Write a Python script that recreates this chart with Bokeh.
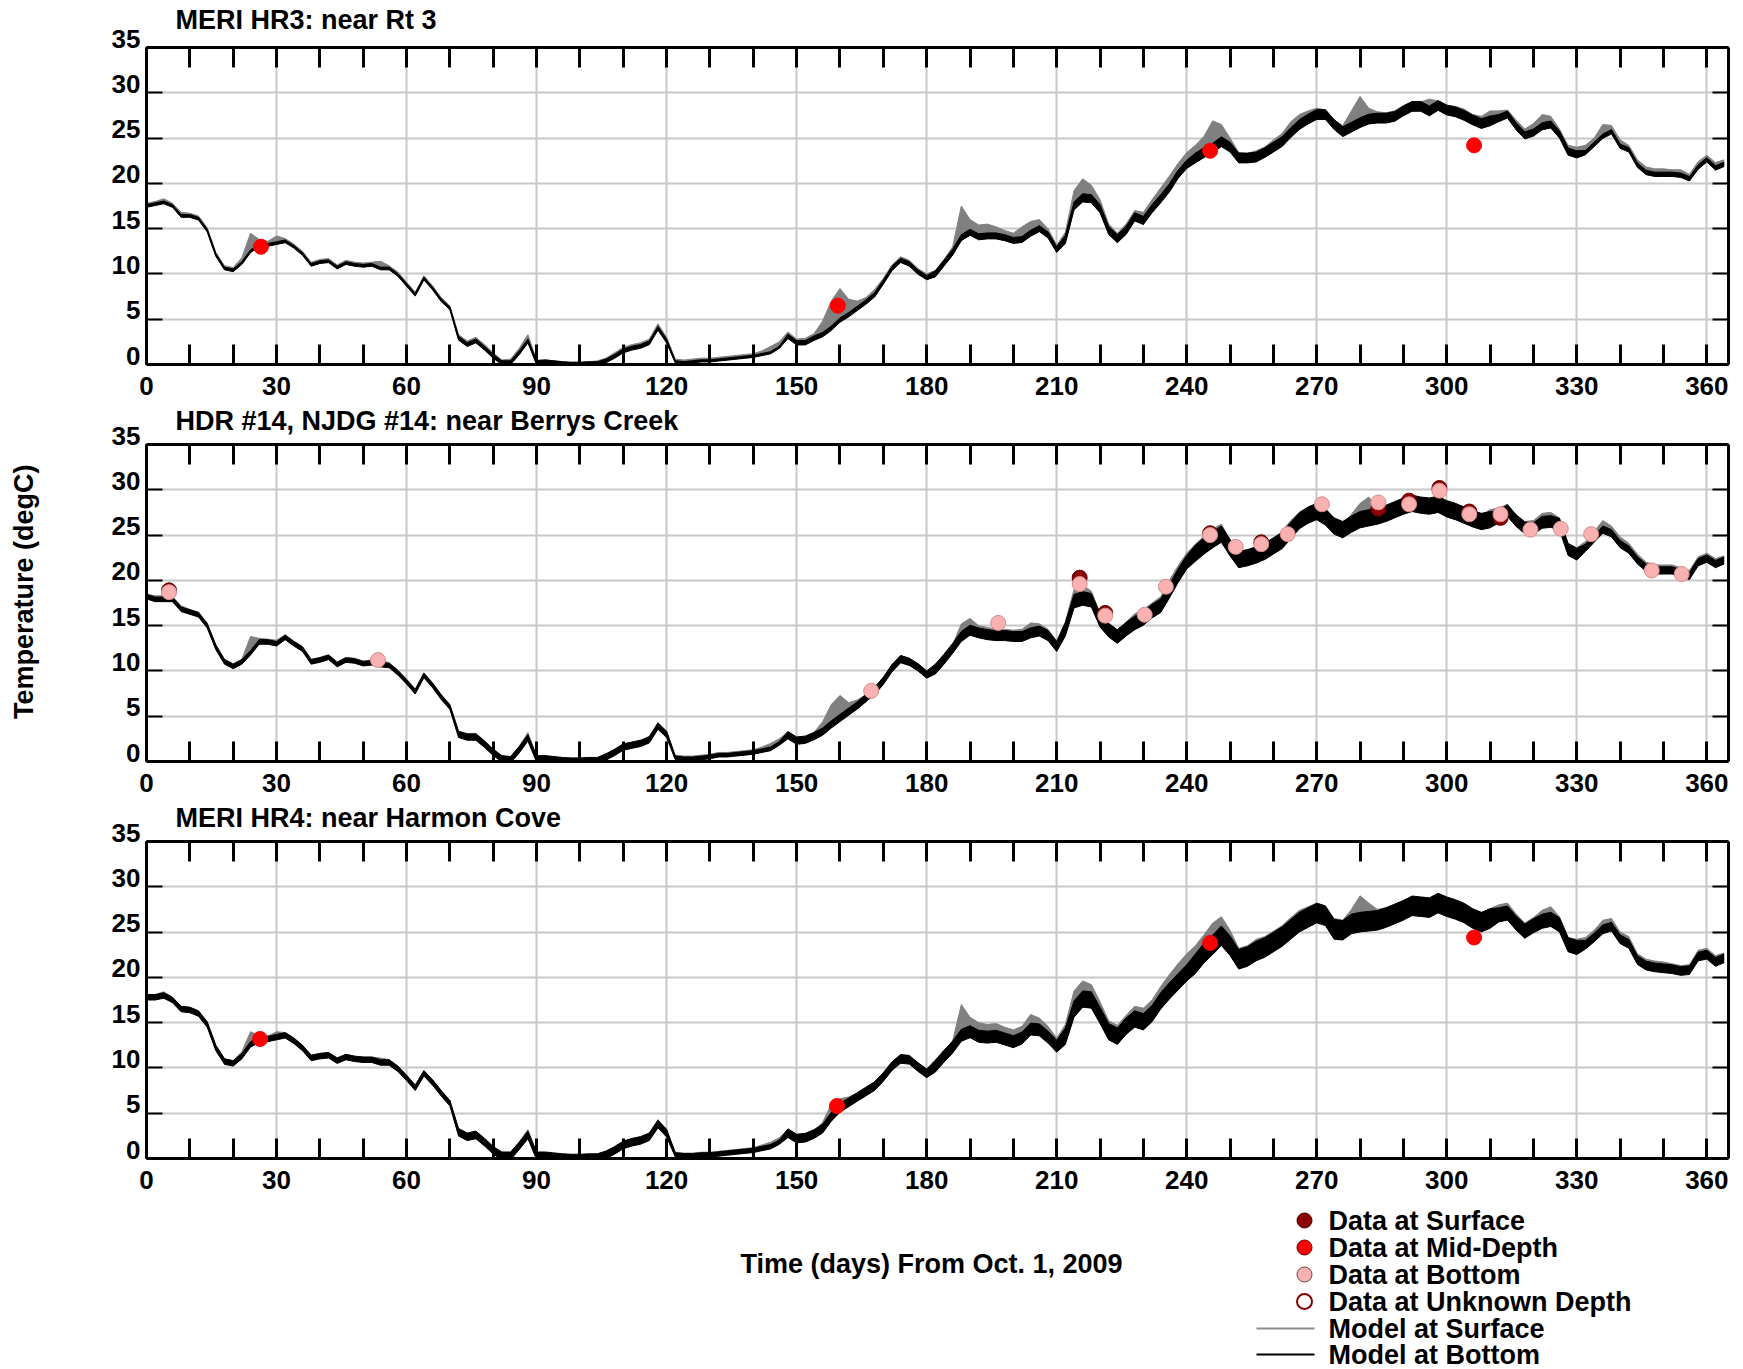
import numpy as np
from bokeh.plotting import figure
from bokeh.models import Range1d, FixedTicker, LinearAxis, ColumnDataSource
from bokeh.core.properties import value
from bokeh.layouts import column
from bokeh.embed import file_html
from bokeh.resources import INLINE

# ---------------- data ----------------
TITLES = ["MERI HR3: near Rt 3", "HDR #14, NJDG #14: near Berrys Creek",
          "MERI HR4: near Harmon Cove"]
X_TITLE = "Time (days) From Oct. 1, 2009"
Y_TITLE = "Temperature (degC)"
X_TICKS = list(range(0, 361, 10))
X_LABELED = list(range(0, 361, 30))
Y_TICKS = list(range(0, 36, 5))

# model output sampled every 2 days
DAYS = list(range(0, 365, 2))

bot_p1 = [17.5, 17.7, 17.9, 17.5, 16.4, 16.4, 16.1, 14.8, 12.1, 10.6,
          10.4, 11.2, 12.5, 13.2, 13.2, 13.4, 13.6, 13.0, 12.2, 11.0,
          11.3, 11.4, 10.7, 11.2, 11.0, 10.9, 11.0, 10.6, 10.6, 9.9,
          8.8, 7.7, 9.5, 8.4, 7.1, 6.2, 2.9, 2.2, 2.6, 1.8,
          0.9, 0.2, 0.2, 1.3, 2.6, 0.2, 0.3, 0.2, 0.1, 0.05,
          0.05, 0.1, 0.1, 0.4, 0.9, 1.5, 1.8, 2.0, 2.4, 4.0,
          2.6, 0.3, 0.2, 0.3, 0.4, 0.4, 0.5, 0.6, 0.7, 0.8,
          0.9, 1.1, 1.3, 1.9, 3.1, 2.4, 2.4, 2.9, 3.3, 4.0,
          4.9, 5.5, 6.2, 6.9, 7.7, 9.1, 10.6, 11.5, 11.1, 10.2,
          9.6, 10.0, 11.2, 12.4, 14.0, 14.6, 14.1, 14.2, 14.2, 14.0,
          13.7, 13.8, 14.5, 15.0, 14.3, 12.7, 13.8, 17.5, 18.4, 18.3,
          17.2, 14.8, 13.9, 14.8, 16.3, 15.9, 17.2, 18.3, 19.5, 21.0,
          22.1, 22.8, 23.4, 23.9, 24.6, 24.0, 22.8, 22.8, 22.9, 23.4,
          24.0, 24.6, 25.6, 26.5, 27.1, 27.6, 27.6, 26.5, 25.7, 26.2,
          26.7, 27.1, 27.2, 27.2, 27.4, 28.0, 28.5, 28.5, 28.0, 28.6,
          28.1, 27.9, 27.5, 27.0, 26.6, 26.9, 27.2, 27.6, 26.3, 25.3,
          25.6, 26.3, 26.5, 25.4, 23.5, 23.2, 23.4, 24.3, 25.2, 25.7,
          24.1, 23.7, 22.0, 21.2, 21.0, 21.0, 21.0, 20.9, 20.5, 21.8,
          22.6, 21.7, 22.1]
surf_p1 = [17.8, 18.0, 18.3, 17.8, 16.8, 16.7, 16.4, 15.1, 12.4, 10.9,
           10.7, 11.8, 14.5, 13.8, 13.6, 14.2, 13.9, 13.3, 12.5, 11.3,
           11.6, 11.7, 11.0, 11.5, 11.3, 11.2, 11.3, 11.4, 10.9, 10.2,
           9.1, 8.0, 9.8, 8.7, 7.4, 6.5, 3.3, 2.6, 3.0, 2.2,
           1.3, 0.5, 0.6, 1.8, 3.3, 0.5, 0.5, 0.4, 0.3, 0.2,
           0.2, 0.3, 0.4, 0.7, 1.3, 1.9, 2.2, 2.4, 2.8, 4.5,
           3.0, 0.6, 0.5, 0.6, 0.7, 0.7, 0.8, 0.9, 1.0, 1.1,
           1.2, 1.5, 2.0, 2.5, 3.6, 2.8, 2.9, 3.4, 4.8, 7.0,
           8.4, 7.2, 7.0, 7.4, 8.3, 9.5, 11.0, 11.9, 11.5, 10.6,
           10.0, 10.4, 11.6, 13.0, 17.5, 16.0, 15.4, 15.5, 15.2, 14.8,
           14.5, 15.2, 15.8, 16.0, 15.0, 13.2, 14.6, 19.2, 20.5, 19.8,
           18.2, 15.5, 14.5, 15.5, 17.0, 16.8, 18.2, 19.5, 20.8, 22.2,
           23.4, 24.2, 25.2, 26.9, 26.5, 25.0, 23.4, 23.3, 23.6, 24.0,
           24.8, 25.5, 26.8, 27.6, 28.0, 28.3, 28.1, 27.0, 26.4, 28.0,
           29.6, 28.3, 27.9, 27.8, 28.0, 28.6, 29.0, 29.0, 29.3, 29.1,
           28.6, 28.5, 28.2, 27.6, 27.4, 28.0, 28.0, 28.1, 27.0, 26.0,
           26.6, 27.6, 27.4, 26.0, 24.2, 24.0, 24.2, 25.0, 26.5, 26.4,
           24.8, 24.2, 22.6, 21.8, 21.6, 21.6, 21.5, 21.5, 21.0, 22.4,
           23.1, 22.3, 22.6]

bot_p2 = [18.2, 17.9, 17.9, 17.9, 16.8, 16.5, 16.2, 15.0, 12.6, 11.0,
          10.5, 11.0, 12.0, 13.2, 13.2, 13.0, 13.7, 13.0, 12.4, 11.0,
          11.2, 11.5, 10.7, 11.2, 11.1, 10.8, 10.9, 10.7, 10.6, 9.8,
          8.8, 7.7, 9.5, 8.4, 7.1, 6.0, 3.0, 2.7, 2.7, 1.9,
          1.0, 0.3, 0.2, 1.3, 2.6, 0.3, 0.3, 0.2, 0.1, 0.05,
          0.05, 0.1, 0.1, 0.5, 1.0, 1.6, 1.8, 2.0, 2.4, 3.9,
          3.0, 0.4, 0.3, 0.3, 0.4, 0.5, 0.7, 0.7, 0.8, 0.9,
          1.0, 1.2, 1.4, 2.0, 2.9, 2.3, 2.4, 2.8, 3.3, 4.1,
          4.8, 5.5, 6.2, 7.0, 7.8, 8.9, 10.3, 11.3, 11.0, 10.4,
          9.6, 10.2, 11.3, 12.5, 13.8, 14.5, 14.2, 14.0, 13.9, 13.9,
          13.8, 13.8, 14.2, 14.4, 13.9, 12.7, 14.6, 17.7, 18.0, 17.8,
          15.6, 14.5, 13.8, 14.6, 15.3, 15.8, 16.6, 17.2, 18.8, 20.5,
          22.0, 23.0, 23.8, 24.5, 25.1, 23.6, 22.3, 22.5, 22.8, 23.2,
          23.8, 24.4, 25.5, 26.6, 27.2, 27.6, 27.0, 26.0, 25.6, 26.2,
          26.7, 26.9, 27.1, 27.4, 27.8, 28.2, 28.5, 28.3, 28.2, 28.4,
          27.9, 27.6, 27.2, 26.8, 26.5, 26.7, 27.0, 27.7, 26.6, 25.8,
          25.7, 26.4, 26.5, 26.2, 23.4, 22.9, 23.6, 24.6, 25.6, 25.2,
          24.0, 23.4, 22.2, 21.4, 21.1, 21.1, 21.1, 20.8, 20.5, 22.0,
          22.4, 21.8, 22.2]
surf_p2 = [18.5, 18.3, 18.3, 18.2, 17.2, 16.8, 16.5, 15.3, 12.9, 11.3,
           10.8, 11.3, 13.8, 13.6, 13.5, 13.4, 14.0, 13.3, 12.7, 11.3,
           11.5, 11.8, 11.0, 11.5, 11.4, 11.1, 11.2, 11.2, 10.9, 10.1,
           9.1, 8.0, 9.8, 8.7, 7.4, 6.3, 3.3, 3.1, 3.1, 2.3,
           1.3, 0.6, 0.5, 1.7, 3.2, 0.6, 0.6, 0.5, 0.3, 0.2,
           0.2, 0.3, 0.4, 0.8, 1.3, 1.9, 2.1, 2.3, 2.7, 4.3,
           3.3, 0.7, 0.6, 0.6, 0.7, 0.8, 1.0, 1.0, 1.1, 1.2,
           1.3, 1.6, 2.0, 2.5, 3.3, 2.7, 2.8, 3.2, 4.4, 6.3,
           7.3, 6.5, 6.8, 7.4, 8.2, 9.3, 10.7, 11.7, 11.4, 10.8,
           10.0, 10.5, 11.7, 12.9, 15.2, 15.8, 15.0, 14.8, 14.6, 14.6,
           14.5, 14.6, 15.3, 15.2, 14.6, 13.3, 15.4, 19.0, 19.5, 18.8,
           16.4, 15.2, 14.5, 15.4, 16.3, 16.8, 17.5, 18.2, 20.0, 21.6,
           23.0, 24.0, 24.9, 25.7, 26.2, 24.5, 23.2, 23.3, 23.6, 24.0,
           24.6, 25.4, 26.6, 27.5, 27.9, 28.3, 27.8, 26.8, 26.2, 27.3,
           28.5, 29.2, 28.0, 28.1, 28.5, 28.9, 29.1, 28.9, 28.8, 29.3,
           28.5, 28.3, 27.9, 27.5, 27.2, 27.8, 28.0, 28.4, 27.2, 26.5,
           26.6, 27.4, 27.5, 26.9, 24.1, 23.6, 24.3, 25.4, 26.6, 26.0,
           24.8, 24.1, 22.9, 22.0, 21.7, 21.7, 21.7, 21.4, 21.1, 22.6,
           23.0, 22.4, 22.7]

bot_p3 = [17.8, 17.8, 18.0, 17.5, 16.5, 16.4, 16.0, 14.8, 12.2, 10.7,
          10.5, 11.3, 12.6, 13.1, 13.2, 13.4, 13.6, 13.0, 12.2, 11.1,
          11.3, 11.4, 10.8, 11.2, 11.0, 10.9, 10.9, 10.6, 10.6, 9.9,
          8.9, 7.8, 9.4, 8.4, 7.2, 6.1, 2.9, 2.4, 2.6, 1.8,
          0.9, 0.3, 0.3, 1.4, 2.6, 0.3, 0.3, 0.2, 0.1, 0.05,
          0.05, 0.1, 0.1, 0.4, 0.9, 1.5, 1.8, 2.0, 2.4, 3.8,
          2.8, 0.4, 0.3, 0.3, 0.4, 0.4, 0.5, 0.6, 0.7, 0.8,
          0.9, 1.1, 1.3, 1.8, 2.8, 2.2, 2.3, 2.7, 3.3, 4.6,
          5.6, 6.2, 6.8, 7.4, 8.0, 9.0, 10.2, 11.0, 10.9, 10.1,
          9.4, 10.2, 11.3, 12.3, 13.6, 14.0, 13.5, 13.4, 13.5, 13.2,
          12.9, 13.3, 14.3, 14.2, 13.4, 12.4, 13.5, 16.5, 17.6, 17.5,
          15.8, 14.0, 13.5, 14.6, 15.4, 15.1, 16.0, 17.4, 18.5, 19.5,
          20.5, 21.5, 22.7, 23.6, 24.6, 23.5, 22.0, 22.3, 22.9, 23.3,
          23.9, 24.5, 25.3, 26.1, 26.6, 27.1, 26.8, 25.3, 25.2, 25.9,
          26.1, 26.2, 26.3, 26.6, 27.0, 27.4, 27.9, 27.8, 27.7, 28.2,
          27.8, 27.5, 27.1, 26.5, 26.1, 26.5, 26.9, 27.1, 26.0, 25.1,
          25.7, 26.2, 26.4, 25.8, 23.6, 23.3, 23.6, 24.4, 25.3, 25.6,
          24.2, 23.7, 21.9, 21.3, 21.1, 21.0, 20.9, 20.7, 20.8, 22.3,
          22.5, 21.7, 22.1]
surf_p3 = [18.1, 18.1, 18.4, 17.8, 16.8, 16.7, 16.3, 15.1, 12.5, 11.0,
           10.8, 11.8, 14.0, 13.6, 13.5, 14.0, 13.9, 13.3, 12.5, 11.4,
           11.6, 11.7, 11.1, 11.5, 11.3, 11.2, 11.2, 11.1, 10.9, 10.2,
           9.2, 8.1, 9.7, 8.7, 7.5, 6.4, 3.2, 2.8, 3.0, 2.2,
           1.3, 0.6, 0.6, 1.8, 3.2, 0.6, 0.6, 0.4, 0.3, 0.2,
           0.2, 0.3, 0.4, 0.7, 1.2, 1.9, 2.1, 2.3, 2.7, 4.3,
           3.1, 0.7, 0.6, 0.6, 0.7, 0.7, 0.8, 0.9, 1.0, 1.1,
           1.2, 1.5, 1.8, 2.3, 3.2, 2.6, 2.7, 3.1, 4.0, 6.0,
           6.6, 6.8, 7.2, 7.7, 8.4, 9.4, 10.6, 11.4, 11.3, 10.5,
           9.8, 10.6, 11.8, 13.0, 17.0, 15.6, 15.0, 14.8, 14.9, 14.5,
           14.2, 14.6, 15.9, 15.5, 14.6, 13.3, 14.8, 18.5, 19.6, 19.2,
           17.3, 15.2, 14.7, 15.8, 16.8, 16.6, 17.5, 19.0, 20.3, 21.5,
           22.6, 23.5, 24.7, 26.0, 26.7, 25.2, 23.2, 23.5, 24.2, 24.5,
           25.1, 25.7, 26.6, 27.4, 27.8, 28.2, 27.9, 26.5, 26.3, 27.5,
           29.0, 28.2, 27.5, 27.7, 28.1, 28.5, 28.9, 28.8, 28.7, 29.2,
           28.7, 28.4, 28.0, 27.4, 27.0, 27.6, 28.0, 28.2, 27.0, 26.0,
           26.6, 27.4, 27.8, 26.7, 24.4, 24.2, 24.4, 25.2, 26.3, 26.5,
           25.0, 24.5, 22.6, 22.0, 21.8, 21.7, 21.5, 21.3, 21.4, 23.0,
           23.2, 22.4, 22.7]

# tidal range of the bottom model (degC), same 2-day sampling
tide = ([0.5] * 36 + [0.7] * 25 + [0.4] * 13 + [0.8] * 17 + [1.1] * 15 +
        [1.5] * 15 + [1.8] * 35 + [1.3] * 10 + [0.8] * 17)

# observations
mid_days_p1 = [26.4, 159.5, 245.4, 306.3]
mid_temp_p1 = [13.0, 6.5, 23.6, 24.2]
mid_days_p3 = [26.2, 159.3, 245.4, 306.3]
mid_temp_p3 = [13.2, 5.8, 23.8, 24.4]
surf_obs_days_p2 = [5.2, 215.3, 221.2, 245.4, 257.2, 284.2, 291.3, 298.3, 305.2, 312.4]
surf_obs_temp_p2 = [18.9, 20.3, 16.4, 25.2, 24.2, 27.9, 28.8, 30.2, 27.6, 26.9]
bot_obs_days_p2 = [5.2, 53.4, 167.2, 196.5, 215.3, 221.2, 230.3, 235.2, 245.4,
                   251.3, 257.2, 263.3, 271.2, 284.2, 291.3, 298.3, 305.2,
                   312.4, 319.3, 326.3, 333.3, 347.3, 354.2]
bot_obs_temp_p2 = [18.7, 11.2, 7.8, 15.3, 19.6, 16.1, 16.2, 19.3, 25.0,
                   23.7, 24.0, 25.1, 28.4, 28.6, 28.4, 29.9, 27.3,
                   27.3, 25.6, 25.7, 25.1, 21.1, 20.7]

LEGEND_LABELS = ["Data at Surface", "Data at Mid-Depth", "Data at Bottom",
                 "Data at Unknown Depth", "Model at Surface", "Model at Bottom"]

for name, arr in [("bot_p1", bot_p1), ("surf_p1", surf_p1), ("bot_p2", bot_p2),
                  ("surf_p2", surf_p2), ("bot_p3", bot_p3), ("surf_p3", surf_p3),
                  ("tide", tide)]:
    if len(arr) != len(DAYS):
        raise SystemExit(f"{name} has {len(arr)} values, expected {len(DAYS)}")

# ---------------- styling ----------------
FONT = "Liberation Sans"
GRAY = "#808080"
DARKRED = "#8b0000"
RED = "#ff0000"
PINK = "#f9b1b1"
GRID = "#c8c8c8"
W = 1743
LEFT, RIGHT = 146, 15


def make_panel(title, bot, surf, k, height, top, bottom, title_standoff):
    p = figure(width=W, height=height, x_range=Range1d(0, 365),
               y_range=Range1d(0, 35), output_backend="svg",
               toolbar_location=None, min_border_left=LEFT,
               min_border_right=RIGHT, min_border_top=top,
               min_border_bottom=bottom)
    p.outline_line_color = None
    p.background_fill_color = "white"
    p.border_fill_color = "white"

    # a trailing empty line lifts the title away from the frame
    p.title.text = title + "\n"
    p.title.align = "left"
    p.title.offset = 29
    p.title.standoff = title_standoff
    p.title.text_font = FONT
    p.title.text_font_size = "27px"
    p.title.text_font_style = "bold"
    p.title.text_color = "black"
    p.title.text_line_height = 1.0

    xt = FixedTicker(ticks=X_TICKS)
    yt = FixedTicker(ticks=Y_TICKS)
    xlab = {t: (str(t) if t in X_LABELED else "") for t in X_TICKS}
    ylab = {t: f"{t}\n" for t in Y_TICKS}

    ax = p.below[0]
    ax.ticker = xt
    ax.major_label_overrides = xlab
    ay = p.left[0]
    ay.ticker = yt
    ay.major_label_overrides = ylab
    ay.major_label_text_line_height = 0.6

    top_ax = LinearAxis(ticker=xt, major_label_overrides={t: "" for t in X_TICKS})
    right_ax = LinearAxis(ticker=yt, major_label_overrides={t: "" for t in Y_TICKS})
    p.add_layout(top_ax, "above")
    p.add_layout(right_ax, "right")

    for a in (ax, top_ax):
        a.major_tick_in = 20
        a.major_tick_out = 0
        a.major_tick_line_width = 3
    for a in (ay, right_ax):
        a.major_tick_in = 16
        a.major_tick_out = 0
        a.major_tick_line_width = 2
    for a in (ax, ay, top_ax, right_ax):
        a.axis_line_width = 3
        a.axis_line_color = "black"
        a.major_tick_line_color = "black"
        a.minor_tick_in = 0
        a.minor_tick_out = 0
        a.major_label_text_font = FONT
        a.major_label_text_font_style = "bold"
        a.major_label_text_font_size = "26px"
        a.major_label_text_color = "black"
        a.axis_label_text_font = FONT
        a.axis_label_text_font_style = "bold"
        a.axis_label_text_color = "black"
    for a in (top_ax, right_ax):
        a.major_label_standoff = 0
        a.axis_label_standoff = 0
        a.major_label_text_font_size = "0px"
    ax.major_label_standoff = 12
    ay.major_label_standoff = 6

    p.xgrid.ticker = FixedTicker(ticks=X_LABELED)
    p.ygrid.ticker = yt
    for g in (p.xgrid, p.ygrid):
        g.grid_line_color = GRID
        g.grid_line_width = 2

    b = np.array(bot)
    half = np.array(tide) * k / 2.0
    src = ColumnDataSource(dict(day=DAYS, bot=b, surf=surf,
                                lo=b - half, hi=b + half))
    p.varea(x="day", y1="lo", y2="surf", source=src, fill_color=GRAY)
    p.line(x="day", y="surf", source=src, line_color=GRAY, line_width=1)
    p.varea(x="day", y1="lo", y2="hi", source=src, fill_color="black")
    p.line(x="day", y="bot", source=src, line_color="black", line_width=1.5)
    p.line(x="day", y="hi", source=src, line_color="black", line_width=1)
    p.line(x="day", y="lo", source=src, line_color="black", line_width=1)
    return p, ax, ay


H1, H2, H3 = 406, 397, 397
p1, _, _ = make_panel(TITLES[0], bot_p1, surf_p1, 0.6, H1, 47, 42, -34)
p1.scatter(mid_days_p1, mid_temp_p1, marker="circle", size=15,
           fill_color=RED, line_color=RED)

p2, _, ay2 = make_panel(TITLES[1], bot_p2, surf_p2, 1.0, H2, 38, 42, -42)
p2.scatter(surf_obs_days_p2, surf_obs_temp_p2, marker="circle", size=15,
           fill_color=DARKRED, line_color="#5a0000")
p2.scatter(bot_obs_days_p2, bot_obs_temp_p2, marker="circle", size=15,
           fill_color=PINK, line_color="#d98c8c")
# leading no-break spaces nudge the centred label upward, as in the reference
ay2.axis_label = "\u00a0\u00a0\u00a0" + Y_TITLE
ay2.axis_label_text_font_size = "27px"
ay2.axis_label_standoff = 70

p3, _, _ = make_panel(TITLES[2], bot_p3, surf_p3, 1.2, H3, 38, 42, -42)
p3.scatter(mid_days_p3, mid_temp_p3, marker="circle", size=15,
           fill_color=RED, line_color=RED)

# ---- bottom strip: x-axis title and legend (data units = page pixels) ----
H4 = 1369 - H1 - H2 - H3
PAGE_TOP4 = H1 + H2 + H3
p4 = figure(width=W, height=H4, x_range=Range1d(LEFT, W - RIGHT),
            y_range=Range1d(0, H4), output_backend="svg",
            toolbar_location=None, x_axis_location=None, y_axis_location=None,
            min_border_left=LEFT, min_border_right=RIGHT, min_border_top=0,
            min_border_bottom=0)
p4.outline_line_color = None
p4.xgrid.visible = False
p4.ygrid.visible = False


def sy(page_y):
    return H4 - (page_y - PAGE_TOP4)


p4.text(x=[931], y=[sy(1263)], text=[X_TITLE], text_font=value(FONT),
        text_font_size="27px", text_font_style="bold", text_color="black",
        text_align="center", text_baseline="middle")

rows = [1220, 1247, 1274, 1301, 1328, 1354]
ry = [sy(r) for r in rows]
mk_fill = [DARKRED, RED, PINK, "white"]
mk_line = ["#4d0000", "#600000", "#6a4040", DARKRED]
mk_w = [1, 1, 1, 2]
p4.scatter(x=[1304] * 4, y=ry[:4], marker="circle", size=15,
           fill_color=mk_fill, line_color=mk_line, line_width=mk_w)
p4.segment(x0=[1256, 1256], y0=ry[4:], x1=[1314, 1314], y1=ry[4:],
           line_color=["#8c8c8c", "black"], line_width=2)
p4.text(x=[1328] * 6, y=ry, text=LEGEND_LABELS, text_font=value(FONT),
        text_font_size="27px", text_font_style="bold", text_color="black",
        text_align="left", text_baseline="middle")

layout = column(p1, p2, p3, p4, spacing=0)
open("out.html", "w").write(file_html(layout, INLINE))
